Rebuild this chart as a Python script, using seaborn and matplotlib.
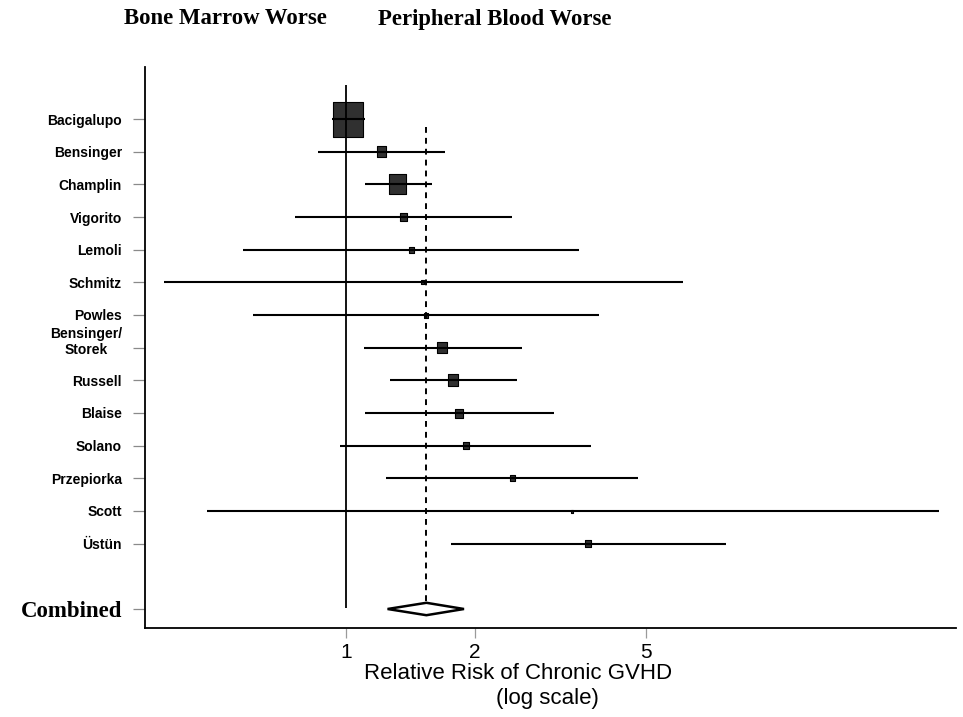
import numpy as np
import pandas as pd
import matplotlib
matplotlib.use("Agg")
import matplotlib.pyplot as plt
import matplotlib.transforms as mtrans
from matplotlib.path import Path
from matplotlib.markers import MarkerStyle
from matplotlib.ticker import NullLocator, FixedLocator
import seaborn as sns

# ---------------- data ----------------
studies = ["Bacigalupo", "Bensinger", "Champlin", "Vigorito", "Lemoli", "Schmitz",
           "Powles", "Bensinger/\nStorek", "Russell", "Blaise", "Solano",
           "Przepiorka", "Scott", "Üstün"]
rr = [1.01, 1.21, 1.32, 1.36, 1.42, 1.51, 1.54, 1.675, 1.78, 1.835, 1.905, 2.44, 3.37, 3.67]
ci_low = [0.93, 0.86, 1.11, 0.76, 0.575, 0.376, 0.607, 1.10, 1.27, 1.11, 0.97, 1.24, 0.474, 1.76]
ci_high = [1.11, 1.70, 1.59, 2.44, 3.50, 6.11, 3.89, 2.57, 2.51, 3.06, 3.73, 4.80, 24.2, 7.70]
weight = [35, 11, 20, 8, 6, 4, 5, 11, 12, 9, 7, 6, 3, 7]   # relative study weight (box size)
combined_label = "Combined"
combined_rr = 1.54
combined_low = 1.25
combined_high = 1.885
xtick_values = [1, 2, 5]
xtick_labels = ["1", "2", "5"]
left_header = "Bone Marrow Worse"
right_header = "Peripheral Blood Worse"
xlabel_line1 = "Relative Risk of Chronic GVHD"
xlabel_line2 = "(log scale)"

# ---------------- style ----------------
sns.set_theme(style="white")
plt.rcParams["font.family"] = ["Liberation Sans", "DejaVu Sans"]

W, H, DPI = 963, 717, 100
fig = plt.figure(figsize=(W / DPI, H / DPI), dpi=DPI)
ax_l, ax_r, ax_t, ax_b = 145, 956, 67, 628
ax = fig.add_axes([ax_l / W, 1 - ax_b / H, (ax_r - ax_l) / W, (ax_b - ax_t) / H])

rows = list(range(len(studies)))
combined_row = len(studies) + 1

df = pd.DataFrame({"rr": rr, "row": rows, "lo": ci_low, "hi": ci_high,
                   "w": weight})
px_per_pt = DPI / 72.0
df["area"] = (df["w"] / px_per_pt) ** 2

ax.set_xscale("log")

# confidence intervals
ax.hlines(df["row"], df["lo"], df["hi"], color="black", lw=1.5, zorder=3)

# study boxes
box = MarkerStyle(Path([(-0.42, -0.5), (0.42, -0.5), (0.42, 0.5), (-0.42, 0.5), (-0.42, -0.5)],
                       [Path.MOVETO, Path.LINETO, Path.LINETO, Path.LINETO, Path.CLOSEPOLY]))
sns.scatterplot(data=df, x="rr", y="row", size="area",
                sizes=(df["area"].min(), df["area"].max()),
                marker=box, color="#303030", edgecolor="black", linewidth=0.8,
                legend=False, ax=ax, zorder=2)

# null line and combined estimate line
ax.vlines(1, -1.04, 14.97, color="black", lw=1.3, zorder=3)
ax.vlines(combined_rr, 0.25, 14.8, color="black", lw=1.4,
          linestyles=(0, (3, 2.6)), zorder=3)

# combined diamond
dh = 0.19
ax.fill([combined_low, combined_rr, combined_high, combined_rr],
        [combined_row, combined_row - dh, combined_row, combined_row + dh],
        facecolor="white", edgecolor="black", lw=1.8, zorder=4)

# axes limits
y_per_row = (609 - 119) / combined_row
ax.set_ylim(combined_row + (ax_b - 609) / y_per_row, (ax_t - 119) / y_per_row)
x_per_dec = 428.6
ax.set_xlim(10 ** ((ax_l - 346) / x_per_dec), 10 ** ((ax_r - 346) / x_per_dec))

# ticks
ax.xaxis.set_major_locator(FixedLocator(xtick_values))
ax.xaxis.set_minor_locator(NullLocator())
ax.set_xticklabels(xtick_labels)
ax.set_yticks(rows + [combined_row])
ax.set_yticklabels(studies + [combined_label])
ax.set_ylabel("")
ax.tick_params(axis="y", left=True, length=8.6, width=0.9, color="#8a8a8a", pad=8)
ax.tick_params(axis="x", bottom=True, length=7, width=0.9, color="#9a9a9a", pad=4,
               labelsize=15, labelcolor="black")
for lab in ax.get_yticklabels():
    lab.set_fontweight("bold")
    lab.set_fontsize(10)
    lab.set_color("black")
    if lab.get_text() == combined_label:
        lab.set_fontfamily(["Liberation Serif", "DejaVu Serif"])
        lab.set_fontsize(16.5)
    if "\n" in lab.get_text():
        lab.set_multialignment("center")
        lab.set_transform(lab.get_transform() +
                          mtrans.ScaledTranslation(0, 6.2 / 72, fig.dpi_scale_trans))

# spines
sns.despine(ax=ax, top=True, right=True)
for s in ("left", "bottom"):
    ax.spines[s].set_color("black")
    ax.spines[s].set_linewidth(1.3)
ax.grid(False)

# x label (two lines, second slightly offset as in the reference)
ax.set_xlabel(xlabel_line1, fontsize=16, color="black")
ax.xaxis.set_label_coords((518 - ax_l) / (ax_r - ax_l), -(663 - ax_b) / (ax_b - ax_t))
ax.xaxis.label.set_verticalalignment("top")
ax.text((547 - ax_l) / (ax_r - ax_l), -(688 - ax_b) / (ax_b - ax_t), xlabel_line2,
        transform=ax.transAxes, ha="center", va="top", fontsize=16, color="black")

# headers
hdr_font = dict(family=["Liberation Serif", "DejaVu Serif"], fontweight="bold",
                fontsize=16.4, color="black", va="center", ha="left")
fig.text(124 / W, 1 - 19 / H, left_header, **hdr_font)
fig.text(378 / W, 1 - 19 / H, right_header, **hdr_font)

fig.savefig("out.png", dpi=DPI, facecolor="white")
